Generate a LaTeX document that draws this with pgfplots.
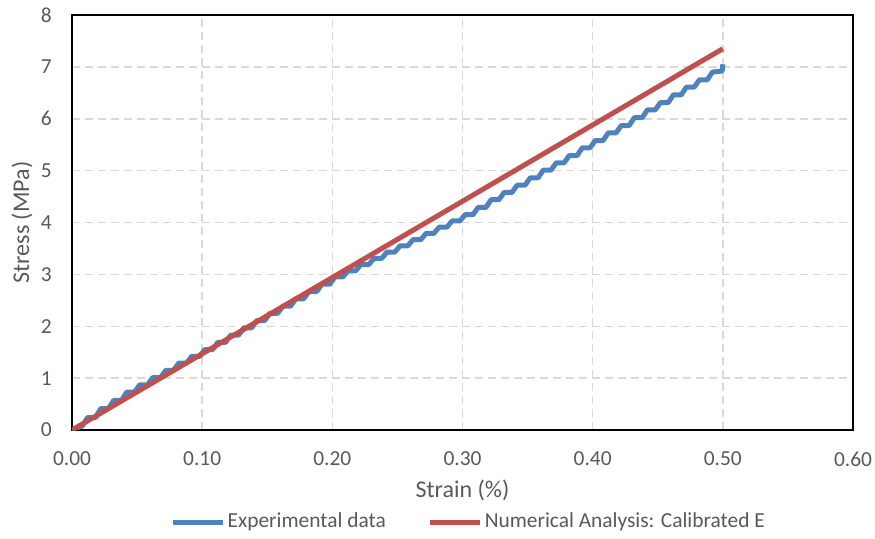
\documentclass[border=0pt]{standalone}
\usepackage{pgfplots}
\pgfplotsset{compat=1.18}
\usepackage{fontspec}
\setmainfont{Carlito}
\definecolor{exblue}{HTML}{4F81BD}
\definecolor{nured}{HTML}{C0504D}
\definecolor{txtgrey}{HTML}{595959}
\definecolor{gridgrey}{HTML}{D9D9D9}
\begin{document}
\fontsize{10.7}{13}\selectfont
\begin{tikzpicture}
\useasboundingbox (-36pt,-54pt) rectangle (401.5pt,215pt);
\begin{axis}[
    scale only axis,
    width=390.5pt, height=207.5pt,
    xmin=0, xmax=0.6, ymin=0, ymax=8,
    xtick={0,0.1,0.2,0.3,0.4,0.5,0.6},
    ytick={0,1,2,3,4,5,6,7,8},
    /pgf/number format/assume math mode=true,
    xticklabel style={/pgf/number format/fixed, /pgf/number format/fixed zerofill,
        /pgf/number format/precision=2, anchor=center, yshift=-14.5pt},
    yticklabel style={anchor=east, inner sep=0pt, xshift=-10pt},
    tick label style={font=\fontsize{10.7}{13}\selectfont, text=txtgrey},
    major tick length=0pt,
    grid=major,
    grid style={gridgrey, line width=0.75pt, dash pattern=on 4pt off 2.5pt},
    axis line style={black, line width=0.9pt},
    xlabel={Strain (\%)},
    ylabel={Stress (MPa)},
    label style={text=txtgrey, font=\fontsize{12}{14}\selectfont},
    xlabel style={at={(axis description cs:0.5,-0.145)}, anchor=center},
    ylabel style={at={(axis description cs:-0.064,0.5)}, anchor=center},
    legend columns=2,
    legend style={at={(axis description cs:0.508,-0.222)}, anchor=center,
        draw=none, fill=none, text=txtgrey, font=\fontsize{10.7}{13}\selectfont,
        nodes={inner sep=1pt},
        /tikz/every even column/.append style={column sep=20pt}},
    legend image code/.code={\draw[#1] (0pt,0pt) -- (25pt,0pt);},
]
\addplot[exblue, line width=2.5pt, line join=round] coordinates {
(0.004,0.04) (0.008,0.08)
(0.012,0.24) (0.018,0.24)
(0.022,0.41) (0.028,0.41)
(0.032,0.57) (0.038,0.57)
(0.042,0.73) (0.048,0.73)
(0.052,0.87) (0.058,0.87)
(0.062,1.01) (0.068,1.01)
(0.072,1.15) (0.078,1.15)
(0.082,1.29) (0.088,1.29)
(0.092,1.42) (0.098,1.42)
(0.102,1.55) (0.108,1.55)
(0.112,1.69) (0.118,1.69)
(0.122,1.83) (0.128,1.83)
(0.132,1.97) (0.138,1.97)
(0.142,2.11) (0.148,2.11)
(0.152,2.25) (0.158,2.25)
(0.162,2.39) (0.168,2.39)
(0.172,2.53) (0.178,2.53)
(0.182,2.67) (0.188,2.67)
(0.192,2.81) (0.198,2.81)
(0.202,2.95) (0.208,2.95)
(0.212,3.07) (0.218,3.07)
(0.222,3.19) (0.228,3.19)
(0.232,3.31) (0.238,3.31)
(0.242,3.43) (0.248,3.43)
(0.252,3.55) (0.258,3.55)
(0.262,3.67) (0.268,3.67)
(0.272,3.79) (0.278,3.79)
(0.282,3.91) (0.288,3.91)
(0.292,4.03) (0.298,4.03)
(0.302,4.15) (0.308,4.15)
(0.312,4.29) (0.318,4.29)
(0.322,4.44) (0.328,4.44)
(0.332,4.58) (0.338,4.58)
(0.342,4.72) (0.348,4.72)
(0.352,4.86) (0.358,4.86)
(0.362,5.01) (0.368,5.01)
(0.372,5.15) (0.378,5.15)
(0.382,5.29) (0.388,5.29)
(0.392,5.44) (0.398,5.44)
(0.402,5.58) (0.408,5.58)
(0.412,5.73) (0.418,5.73)
(0.422,5.87) (0.428,5.87)
(0.432,6.02) (0.438,6.02)
(0.442,6.17) (0.448,6.17)
(0.452,6.31) (0.458,6.31)
(0.462,6.46) (0.468,6.46)
(0.472,6.61) (0.478,6.61)
(0.482,6.75) (0.488,6.75)
(0.492,6.90) (0.4995,6.92)
(0.500,7.05)
};
\addlegendentry{Experimental data}
\addplot[nured, line width=2.5pt] coordinates {(0,0) (0.5,7.35)};
\addlegendentry{Numerical Analysis: Calibrated E}
\end{axis}
\end{tikzpicture}
\end{document}
